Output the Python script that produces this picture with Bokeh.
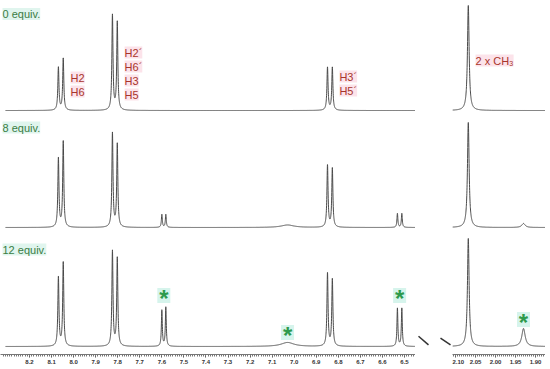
import numpy as np
from bokeh.plotting import figure
from bokeh.models import Range1d, FixedTicker, Label, NumeralTickFormatter
from bokeh.layouts import row
from bokeh.embed import file_html
from bokeh.resources import INLINE

# ---------------- data ----------------
panel_names = ["0 equiv.", "8 equiv.", "12 equiv."]
panel_offsets = [236, 119, 0]

left_shifts = [8.069, 8.047, 7.824, 7.802, 7.600, 7.582, 7.030, 6.849, 6.827, 6.532, 6.512]
left_widths = [0.003, 0.003, 0.003, 0.003, 0.0025, 0.0025, 0.035, 0.003, 0.003, 0.0025, 0.0025]
left_heights = [
    [43, 52, 95, 88, 0, 0, 0.0, 43, 43, 0, 0],
    [69, 86, 94, 83, 13, 13, 2.5, 62, 59, 14, 14],
    [69, 84, 95, 88, 36, 39, 4.0, 73, 67, 38, 38],
]

right_shifts = [2.068, 1.930]
right_widths = [0.0025, 0.005]
right_heights = [
    [105, 0],
    [105, 4],
    [108, 18],
]

left_ticks = [8.2, 8.1, 8.0, 7.9, 7.8, 7.7, 7.6, 7.5, 7.4, 7.3, 7.2, 7.1, 7.0, 6.9, 6.8, 6.7, 6.6, 6.5]
right_ticks = [2.10, 2.05, 2.00, 1.95, 1.90]

star_left_x = [7.591, 7.030, 6.522]
star_left_y = [51, 14, 51]
star_right_x = [1.930]
star_right_y = [27]

FONT = "Liberation Sans"
H = 368
LINE = "#4a4a4a"
RED = "#a8352c"
PINK = "#fce3ea"
GREEN = "#3a7d44"
MINT = "#e0f5ee"
STAR = "#2e9a4c"
STARBG = "#d6f4ec"


def spectrum(x, shifts, widths, heights):
    y = np.zeros_like(x)
    for s, w, h in zip(shifts, widths, heights):
        y += h / (1.0 + ((x - s) / w) ** 2)
    return y


def style_axis(p, ticks, minor, fmt):
    p.xaxis.ticker = FixedTicker(ticks=ticks, minor_ticks=minor)
    p.xaxis.axis_line_color = "#777777"
    p.xaxis.axis_line_width = 1
    p.xaxis.major_tick_line_color = "#555555"
    p.xaxis.minor_tick_line_color = "#777777"
    p.xaxis.major_tick_in = 0
    p.xaxis.major_tick_out = 3
    p.xaxis.minor_tick_in = 0
    p.xaxis.minor_tick_out = 2
    p.xaxis.major_label_text_font = FONT
    p.xaxis.major_label_text_font_size = "6px"
    p.xaxis.major_label_text_font_style = "bold"
    p.xaxis.major_label_text_color = "#333333"
    p.xaxis.major_label_standoff = 2
    p.xaxis.formatter = NumeralTickFormatter(format=fmt)


def base_fig(width, xr):
    p = figure(width=width, height=H, x_range=xr, y_range=Range1d(-8, 346),
               output_backend="svg", toolbar_location=None, y_axis_location=None,
               min_border_left=0, min_border_right=0, min_border_top=0, min_border_bottom=14)
    p.grid.visible = False
    p.outline_line_color = None
    p.background_fill_color = "white"
    p.border_fill_color = "white"
    return p


def red_label(p, x, y, t):
    p.add_layout(Label(x=x, y=y, text=t, text_font=FONT, text_font_size="11px",
                       text_color=RED, text_baseline="middle", text_align="left",
                       background_fill_color=PINK))


def stars(p, xs, ys):
    p.rect(x=xs, y=ys, width=13, height=15, width_units="screen", height_units="screen",
           fill_color=STARBG, line_color=None)
    p.text(x=xs, y=[v - 3 for v in ys], text=["*"] * len(xs), text_font_size="24px",
           text_font_style="bold", text_color=STAR, text_align="center",
           text_baseline="alphabetic")


# ---------------- left panel ----------------
left = base_fig(415, Range1d(8.3315, 6.45))
xl = np.arange(6.45, 8.309, 0.0004)
for off, hts in zip(panel_offsets, left_heights):
    left.line(xl, off + spectrum(xl, left_shifts, left_widths, hts), line_color=LINE, line_width=1)
style_axis(left, left_ticks, list(np.round(np.arange(6.45, 8.33, 0.01), 2)), "0.0")

name_y = [332.5, 219, 97]
for nm, yy in zip(panel_names, name_y):
    left.add_layout(Label(x=8.3224, y=yy, text=nm, text_font=FONT, text_font_size="11px",
                          text_color=GREEN, text_baseline="middle", text_align="left",
                          background_fill_color=MINT))

for t, yy in zip(["H2", "H6"], [269, 255]):
    red_label(left, 8.014, yy, t)
for t, yy in zip(["H2\u00b4", "H6\u00b4", "H3", "H5"], [294, 280, 266, 252]):
    red_label(left, 7.769, yy, t)
for t, yy in zip(["H3\u00b4", "H5\u00b4"], [270, 256]):
    red_label(left, 6.795, yy, t)

stars(left, star_left_x, star_left_y)

# ---------------- break marks ----------------
mid = figure(width=37, height=H, x_range=Range1d(415, 452), y_range=Range1d(368, 0),
             output_backend="svg", toolbar_location=None, x_axis_location=None,
             y_axis_location=None, min_border_left=0, min_border_right=0,
             min_border_top=0, min_border_bottom=0)
mid.grid.visible = False
mid.outline_line_color = None
mid.segment(x0=[418, 440], y0=[349, 351], x1=[428, 450], y1=[358, 358],
            line_color="#333333", line_width=1.5)

# ---------------- right panel ----------------
right = base_fig(93, Range1d(2.1075, 1.875))
xr = np.arange(1.875, 2.1076, 0.0002)
for off, hts in zip(panel_offsets, right_heights):
    right.line(xr, off + spectrum(xr, right_shifts, right_widths, hts), line_color=LINE, line_width=1)
style_axis(right, right_ticks, list(np.round(np.arange(1.875, 2.11, 0.005), 3)), "0.00")

red_label(right, 2.05, 286, "2 x CH\u2083")
stars(right, star_right_x, star_right_y)

layout = row(left, mid, right)
open("out.html", "w").write(file_html(layout, INLINE))
